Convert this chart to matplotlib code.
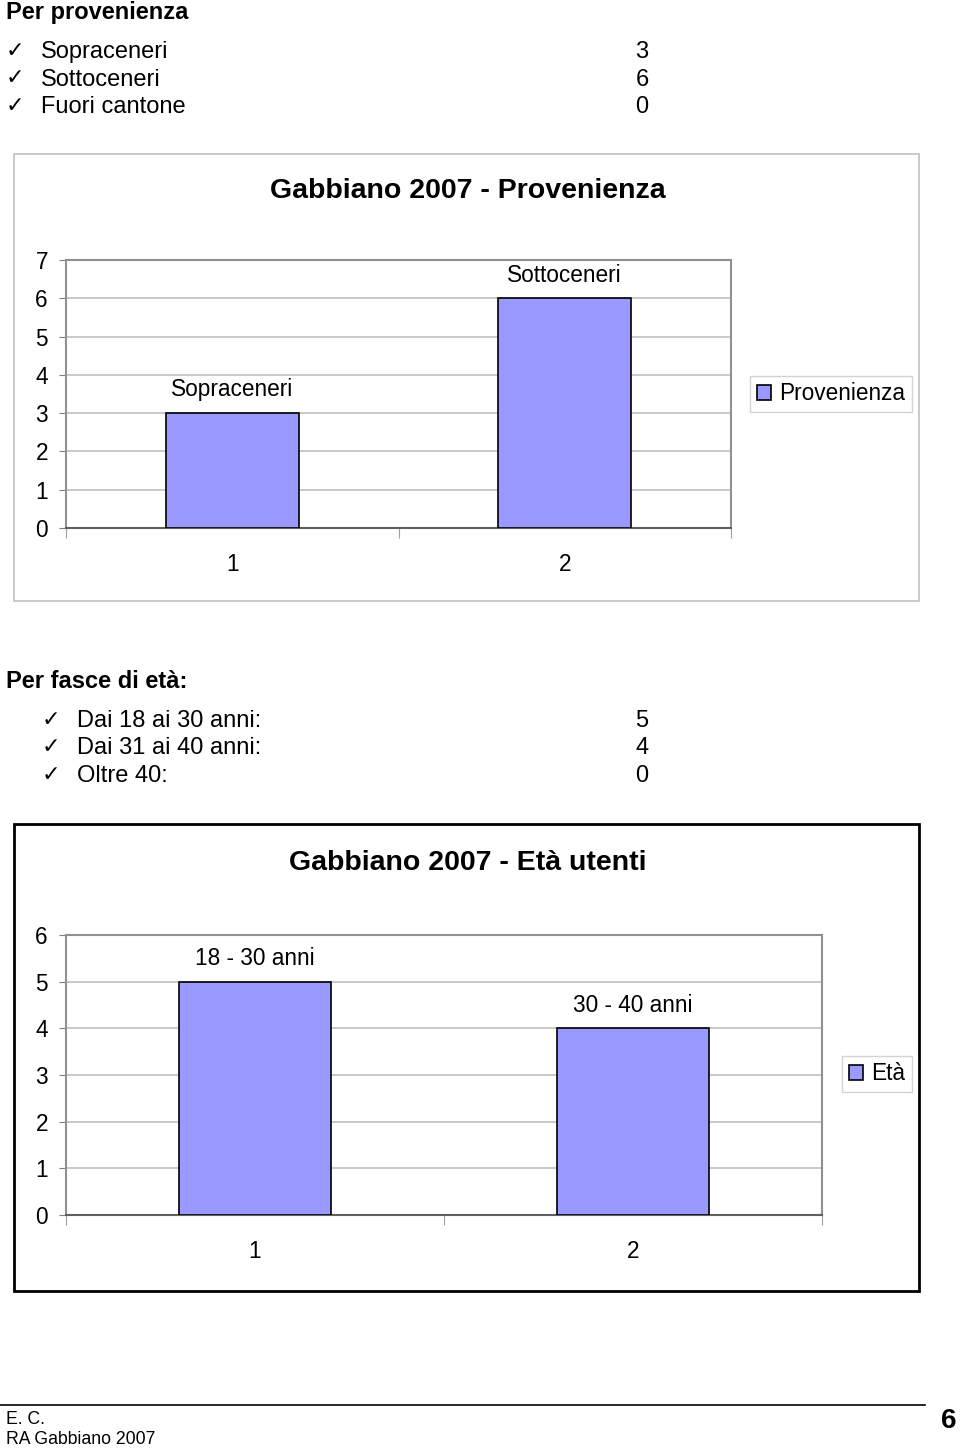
import matplotlib
matplotlib.use('Agg')
import matplotlib.pyplot as plt
import matplotlib.patches as patches
from matplotlib.lines import Line2D

plt.rcParams['font.family'] = ['Liberation Sans', 'DejaVu Sans']

# --- data ---
prov_names = ['Sopraceneri', 'Sottoceneri', 'Fuori cantone']
prov_counts = [3, 6, 0]
prov_cats = [1, 2]
prov_vals = [3, 6]
prov_bar_labels = ['Sopraceneri', 'Sottoceneri']

eta_names = ['Dai 18 ai 30 anni:', 'Dai 31 ai 40 anni:', 'Oltre 40:']
eta_counts = [5, 4, 0]
eta_cats = [1, 2]
eta_vals = [5, 4]
eta_bar_labels = ['18 - 30 anni', '30 - 40 anni']

W, H = 960, 1449
fig = plt.figure(figsize=(W / 100, H / 100), dpi=100)
fig.patch.set_facecolor('white')


def fx(x):
    return x / W


def fy(y):
    return 1 - y / H


def ftext(x, y, s, **kw):
    # y is the visual centre in px; matplotlib's centre includes descent, so nudge down
    fig.text(fx(x), fy(y + 2), s, **kw)


BAR_COLOR = '#9999ff'
GRID = '#c0c0c0'


def draw_list(title, names, counts, y0, check_x, name_x):
    ftext(6, y0, title, fontsize=17, fontweight='bold', va='center', ha='left')
    for i, (n, c) in enumerate(zip(names, counts)):
        yy = y0 + 40 + i * 27.5
        ftext(check_x, yy - 1, '\u2713', fontsize=16, family='DejaVu Sans', va='center', ha='left')
        ftext(name_x, yy, n, fontsize=17, va='center', ha='left')
        ftext(642, yy, str(c), fontsize=17, va='center', ha='center')


def draw_chart(box, plot, title, title_y, cats, vals, bar_labels, ymax, leg_label, leg_center, box_color, box_lw):
    bx0, by0, bx1, by1 = box
    fig.patches.append(patches.Rectangle((fx(bx0), fy(by1)), fx(bx1 - bx0), (by1 - by0) / H,
                                         transform=fig.transFigure, fill=False,
                                         edgecolor=box_color, linewidth=box_lw))
    ftext((bx0 + bx1) / 2 + 1, title_y + 1, title, fontsize=20.5, fontweight='bold', ha='center', va='center')

    px0, py0, px1, py1 = plot
    ax = fig.add_axes([fx(px0), fy(py1), (px1 - px0) / W, (py1 - py0) / H])
    bars = ax.bar(cats, vals, width=0.4, color=BAR_COLOR, edgecolor='black', linewidth=1.2,
                  zorder=3, label=leg_label)
    for b, lab in zip(bars, bar_labels):
        ax.annotate(lab, (b.get_x() + b.get_width() / 2, b.get_height()),
                    xytext=(0, 12), textcoords='offset points',
                    ha='center', va='baseline', fontsize=16.3)
    ax.set_xlim(0.5, len(cats) + 0.5)
    ax.set_ylim(0, ymax)
    ax.set_yticks(range(ymax + 1))
    ax.yaxis.grid(True, color=GRID, linewidth=1.2, zorder=0)
    ax.set_axisbelow(True)
    ax.set_xticks([c - 0.5 for c in cats] + [cats[-1] + 0.5])
    ax.set_xticklabels([])
    ax.set_xticks(cats, minor=True)
    ax.set_xticklabels([str(c) for c in cats], minor=True)
    ax.tick_params(axis='x', which='major', length=7, color='#a0a0a0', direction='out')
    ax.tick_params(axis='x', which='minor', length=0, pad=18, labelsize=16.3)
    ax.tick_params(axis='y', length=5, color='#808080', pad=8, labelsize=16.3)
    for s in ['top', 'right', 'left']:
        ax.spines[s].set_color('#909090')
        ax.spines[s].set_linewidth(1.5)
    ax.spines['bottom'].set_color('#606060')
    ax.spines['bottom'].set_linewidth(1.5)

    handle = patches.Patch(facecolor=BAR_COLOR, edgecolor='black', linewidth=1.2, label=leg_label)
    leg = fig.legend(handles=[handle], loc='center', bbox_to_anchor=(fx(leg_center[0]), fy(leg_center[1])),
                     fontsize=16.3, frameon=True, fancybox=False, handlelength=0.65, handleheight=0.65,
                     handletextpad=0.35, borderpad=0.3, borderaxespad=0)
    leg.get_frame().set_edgecolor('#c8c8c8')
    leg.get_frame().set_linewidth(1.0)
    return ax


# --- Per provenienza ---
draw_list('Per provenienza', prov_names, prov_counts, 10, 6, 41)
draw_chart((14, 154, 919, 601), (66, 260, 731, 528), 'Gabbiano 2007 - Provenienza', 188,
           prov_cats, prov_vals, prov_bar_labels, 7, 'Provenienza', (831, 394), '#c0c0c0', 1.2)

# --- Per fasce di età ---
draw_list('Per fasce di età:', eta_names, eta_counts, 679, 42, 77)
draw_chart((14, 824, 919, 1291), (66, 935, 822, 1215), 'Gabbiano 2007 - Età utenti', 860,
           eta_cats, eta_vals, eta_bar_labels, 6, 'Età', (877, 1074), 'black', 2.0)

# --- footer ---
fig.lines.append(Line2D([0, fx(925)], [fy(1405), fy(1405)], transform=fig.transFigure,
                        color='black', linewidth=1.2))
ftext(6, 1418, 'E. C.', fontsize=12.7, ha='left', va='center')
ftext(6, 1438, 'RA Gabbiano 2007', fontsize=12.7, ha='left', va='center')
ftext(957, 1419, '6', fontsize=20, fontweight='bold', ha='right', va='center')

fig.savefig('out.png', dpi=100)
